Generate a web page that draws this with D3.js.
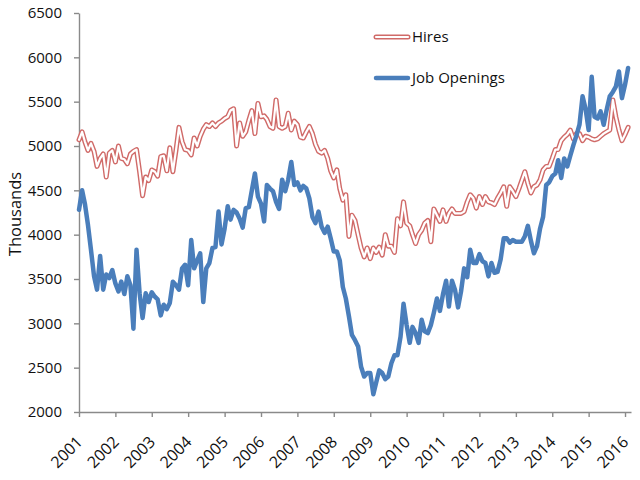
<!DOCTYPE html>
<html>
<head>
<meta charset="utf-8">
<script src="https://cdn.jsdelivr.net/npm/d3@7"></script>
<style>
  body { margin: 0; background: #fff; }
  svg text { font-family: "Open Sans", sans-serif; fill: #111; }
</style>
</head>
<body>
<div class="container"></div>
<script>
// monthly values, thousands, starting Jan 2001
const startYear = 2001;

const hires = [
  5070, 5160, 5050, 4950, 5030, 4940, 4770, 4860, 4910, 4650, 4920, 4950, // 2001
  4820, 5000, 4860, 4850, 4800, 4910, 4940, 4960, 4710, 4440, 4650, 4610, // 2002
  4730, 4710, 4660, 4880, 4890, 4720, 4980, 4710, 4950, 5210, 5050, 4960, // 2003
  4950, 4900, 5090, 5000, 5110, 5190, 5240, 5220, 5260, 5220, 5260, 5280, // 2004
  5310, 5330, 5400, 5420, 5000, 5260, 5110, 5160, 5290, 5400, 5140, 5480, // 2005
  5330, 5340, 5300, 5220, 5200, 5520, 5220, 5200, 5220, 5370, 5180, 5280, // 2006
  5240, 5100, 5090, 5160, 5220, 5140, 5020, 4940, 4920, 4950, 4860, 4720, // 2007
  4640, 4730, 4520, 4390, 4450, 3980, 4220, 4160, 4000, 3850, 3750, 3850, // 2008
  3730, 3850, 3800, 3860, 3770, 4000, 3870, 3870, 3800, 4180, 4100, 4370, // 2009
  4130, 4100, 4000, 3900, 4000, 4050, 4130, 4160, 3920, 4290, 4220, 4150, // 2010
  4280, 4150, 4240, 4290, 4240, 4240, 4240, 4260, 4370, 4450, 4410, 4300, // 2011
  4430, 4340, 4430, 4370, 4360, 4340, 4410, 4470, 4540, 4320, 4540, 4490, // 2012
  4430, 4520, 4610, 4710, 4580, 4470, 4540, 4560, 4620, 4730, 4770, 4770, // 2013
  4860, 4960, 4960, 5060, 5100, 5130, 5180, 5080, 5140, 5140, 5060, 5110, // 2014
  5100, 5080, 5070, 5080, 5110, 5140, 5160, 5180, 5520, 5330, 5180, 5060, // 2015
  5130, 5210                                                              // 2016
];

const openings = [
  4280, 4500, 4350, 4110, 3830, 3530, 3380, 3760, 3380, 3550, 3510, 3600, // 2001
  3450, 3360, 3470, 3330, 3530, 3430, 2940, 3830, 3340, 3060, 3340, 3240, // 2002
  3350, 3300, 3270, 3090, 3210, 3160, 3230, 3470, 3430, 3380, 3620, 3660, // 2003
  3430, 3940, 3620, 3710, 3790, 3240, 3620, 3680, 3850, 3860, 4260, 3890, // 2004
  4070, 4320, 4170, 4280, 4250, 4180, 4080, 4300, 4310, 4500, 4690, 4430, // 2005
  4350, 4150, 4560, 4520, 4490, 4370, 4290, 4620, 4490, 4620, 4820, 4560, // 2006
  4590, 4500, 4550, 4520, 4410, 4200, 4130, 4260, 4090, 4020, 4090, 3960, // 2007
  3810, 3810, 3710, 3410, 3280, 3080, 2870, 2810, 2740, 2510, 2400, 2440, // 2008
  2440, 2200, 2330, 2470, 2440, 2370, 2400, 2550, 2640, 2640, 2850, 3220, // 2009
  2980, 2780, 2960, 2890, 2780, 3040, 2910, 2890, 2980, 3120, 3280, 3140, // 2010
  3330, 3480, 3190, 3480, 3380, 3180, 3360, 3620, 3520, 3830, 3680, 3680, // 2011
  3780, 3700, 3680, 3530, 3680, 3570, 3580, 3720, 3960, 3960, 3910, 3940, // 2012
  3920, 3920, 3920, 3980, 4100, 3930, 3790, 3870, 4070, 4200, 4560, 4590, // 2013
  4660, 4690, 4840, 4640, 4860, 4770, 4890, 5010, 5120, 5240, 5560, 5420, // 2014
  5180, 5780, 5330, 5310, 5390, 5240, 5410, 5560, 5610, 5670, 5840, 5540, // 2015
  5690, 5880                                                              // 2016
];

const yTicks = [2000, 2500, 3000, 3500, 4000, 4500, 5000, 5500, 6000, 6500];
const seriesNames = ['Hires', 'Job Openings'];

let width = 640,
    height = 480,
    margin = { top: 13, right: 9, bottom: 68, left: 79 };

let months = hires.map((d, i) => new Date(startYear, i, 1));

let svg = d3.select('.container')
            .append('svg')
            .attr('width', width)
            .attr('height', height);

let xScale = d3.scaleTime()
               .domain([new Date(startYear, 0, 1), new Date(startYear, hires.length, 1)])
               .range([margin.left, width - margin.right]);

let yScale = d3.scaleLinear()
               .domain([2000, 6500])
               .range([height - margin.bottom, margin.top]);

let xAxis = d3.axisBottom(xScale)
              .ticks(d3.timeYear.every(1))
              .tickFormat(d3.timeFormat('%Y'))
              .tickSize(5)
              .tickSizeOuter(0);

let yAxis = d3.axisLeft(yScale)
              .tickValues(yTicks)
              .tickFormat(d3.format('d'))
              .tickSize(5)
              .tickPadding(12)
              .tickSizeOuter(0);

let gx = svg.append('g')
            .attr('transform', `translate(0, ${height - margin.bottom})`)
            .call(xAxis);

let gy = svg.append('g')
            .attr('transform', `translate(${margin.left}, 0)`)
            .call(yAxis);

[gx, gy].forEach(g => {
  g.selectAll('path, line').attr('stroke', '#8a8a8a').attr('stroke-width', 1.4);
  g.selectAll('text').style('font-size', '15px').attr('fill', '#111');
});

gx.selectAll('text')
  .attr('x', 0)
  .attr('y', 0)
  .attr('dy', 0)
  .attr('text-anchor', 'end')
  .style('font-size', '16px')
  .attr('transform', 'translate(4, 31) rotate(-45)');

svg.append('text')
   .attr('transform', 'translate(21, 214) rotate(-90)')
   .attr('text-anchor', 'middle')
   .style('font-size', '16.5px')
   .text('Thousands');

let line = d3.line()
             .x((d, i) => xScale(months[i]))
             .y(d => yScale(d));

function drawHires(sel, d) {
  sel.append('path')
     .attr('d', d)
     .attr('fill', 'none')
     .attr('stroke', '#d06a68')
     .attr('stroke-width', 5)
     .attr('stroke-linejoin', 'round')
     .attr('stroke-linecap', 'round');
  sel.append('path')
     .attr('d', d)
     .attr('fill', 'none')
     .attr('stroke', '#fff')
     .attr('stroke-width', 2.2)
     .attr('stroke-linejoin', 'round')
     .attr('stroke-linecap', 'round');
}

function drawOpenings(sel, d) {
  sel.append('path')
     .attr('d', d)
     .attr('fill', 'none')
     .attr('stroke', '#4a7ebb')
     .attr('stroke-width', 4.5)
     .attr('stroke-linejoin', 'round')
     .attr('stroke-linecap', 'round');
}

drawHires(svg.append('g'), line(hires));
drawOpenings(svg.append('g'), line(openings));

// legend
let legend = svg.append('g').attr('transform', 'translate(376, 37)');
drawHires(legend, d3.line()([[0, 0], [32, 0]]));
drawOpenings(legend, d3.line()([[0, 41], [32, 41]]));

legend.selectAll('text')
      .data(seriesNames)
      .enter()
      .append('text')
      .attr('x', 36)
      .attr('y', (d, i) => i * 41)
      .attr('dy', '0.35em')
      .style('font-size', '15px')
      .text(d => d);
</script>
</body>
</html>
